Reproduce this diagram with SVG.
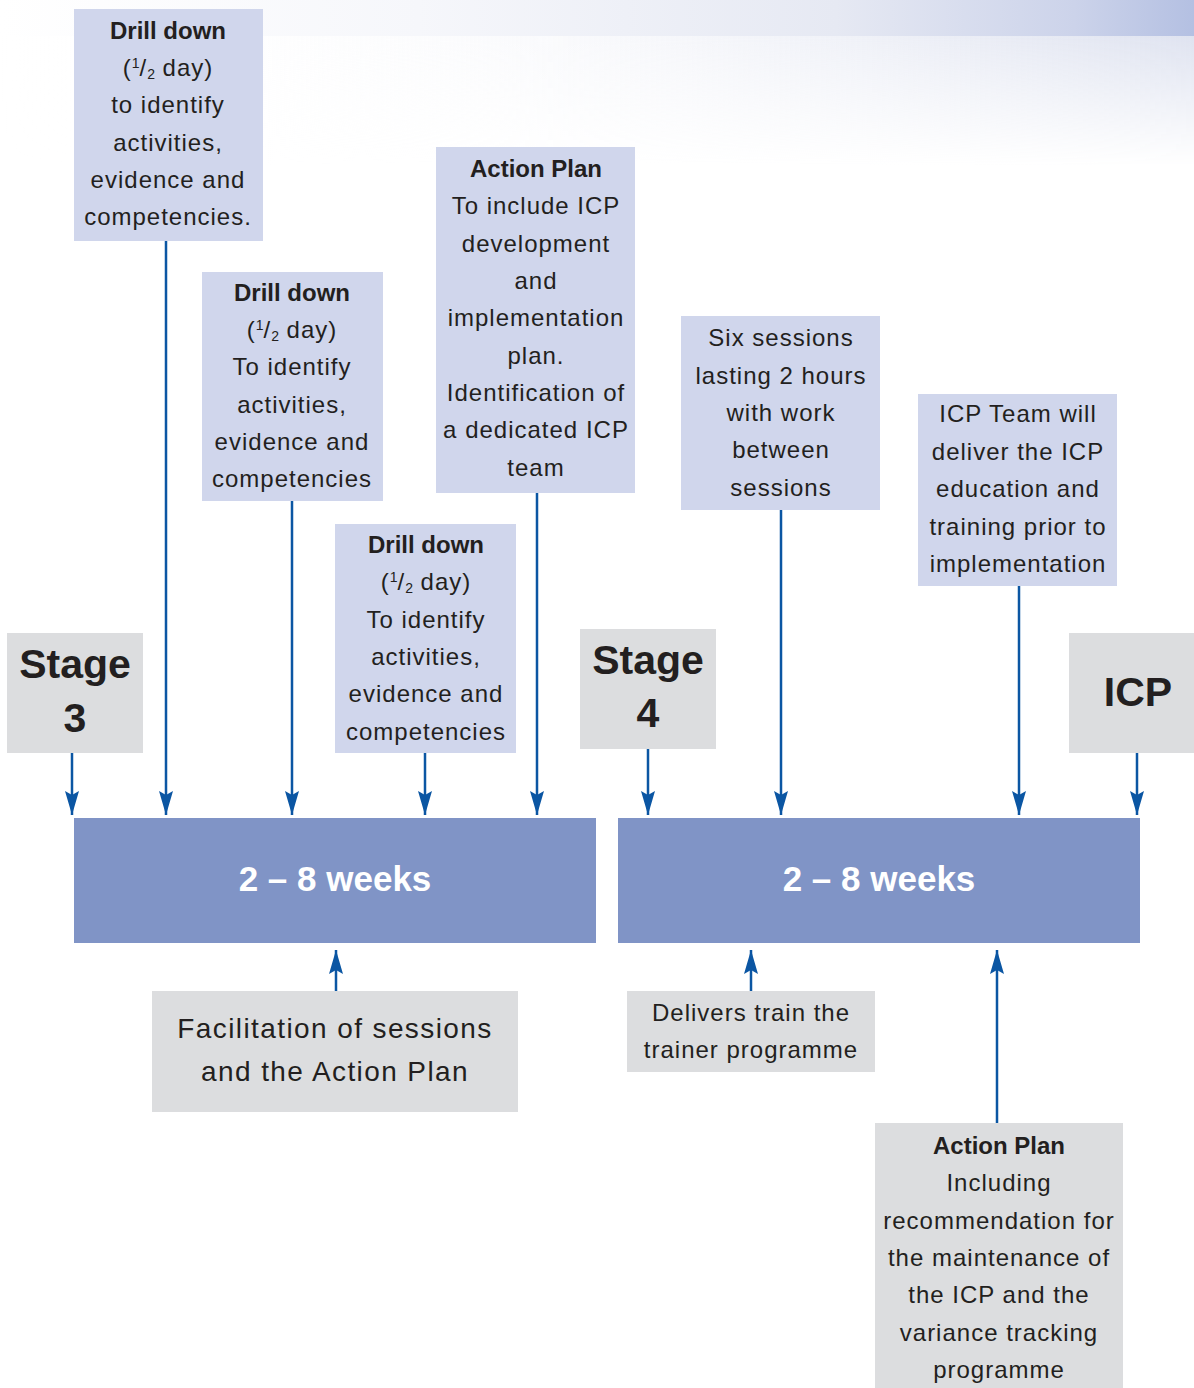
<svg xmlns="http://www.w3.org/2000/svg" width="1194" height="1388" viewBox="0 0 1194 1388">
<defs>
<linearGradient id="bg1" x1="0" y1="0" x2="1" y2="0">
<stop offset="0" stop-color="#ffffff"/>
<stop offset="0.35" stop-color="#f6f7fb"/>
<stop offset="0.7" stop-color="#e6e9f3"/>
<stop offset="0.9" stop-color="#ccd3ea"/>
<stop offset="1" stop-color="#b4c0e2"/>
</linearGradient>
<linearGradient id="bg2" x1="0" y1="0" x2="1" y2="0">
<stop offset="0" stop-color="#ffffff" stop-opacity="0"/>
<stop offset="0.45" stop-color="#f5f6fa" stop-opacity="0.5"/>
<stop offset="1" stop-color="#dfe3f0" stop-opacity="1"/>
</linearGradient>
<linearGradient id="fadeV" x1="0" y1="0" x2="0" y2="1">
<stop offset="0" stop-color="#ffffff"/>
<stop offset="1" stop-color="#000000"/>
</linearGradient>
<mask id="m2" maskUnits="userSpaceOnUse" x="0" y="36" width="1194" height="130">
<rect x="0" y="36" width="1194" height="130" fill="url(#fadeV)"/>
</mask>
<marker id="ah" markerUnits="userSpaceOnUse" markerWidth="24" markerHeight="14" refX="24" refY="7" orient="auto">
<path d="M0,0 L24,7 L0,14 L4,7 z" fill="#0b56a3"/>
</marker>
</defs>
<style>
.lav{fill:#d0d6ec}
.gry{fill:#dcdddf}
.bar{fill:#8094c6}
.t{font-family:"Liberation Sans",Arial,sans-serif;font-size:24px;fill:#231f20;text-anchor:middle;letter-spacing:1px}
.b{font-weight:bold;letter-spacing:0}
.big{font-family:"Liberation Sans",Arial,sans-serif;font-size:41px;font-weight:bold;fill:#231f20;text-anchor:middle}
.wk{font-family:"Liberation Sans",Arial,sans-serif;font-size:35px;font-weight:bold;fill:#ffffff;text-anchor:middle}
.fac{font-family:"Liberation Sans",Arial,sans-serif;font-size:28px;fill:#231f20;text-anchor:middle;letter-spacing:1.4px}
.fr{font-size:14px;letter-spacing:0}
.c{stroke:#0b56a3;stroke-width:2.5;fill:none;marker-end:url(#ah)}
</style>
<rect x="0" y="0" width="1194" height="36" fill="url(#bg1)"/>
<rect x="0" y="36" width="1194" height="130" fill="url(#bg2)" mask="url(#m2)"/>

<g id="connectors">
<line class="c" x1="72" y1="753" x2="72" y2="815"/>
<line class="c" x1="166" y1="241" x2="166" y2="815"/>
<line class="c" x1="292" y1="501" x2="292" y2="815"/>
<line class="c" x1="425" y1="753" x2="425" y2="815"/>
<line class="c" x1="537" y1="493" x2="537" y2="815"/>
<line class="c" x1="648" y1="749" x2="648" y2="815"/>
<line class="c" x1="781" y1="510" x2="781" y2="815"/>
<line class="c" x1="1019" y1="586" x2="1019" y2="815"/>
<line class="c" x1="1137" y1="753" x2="1137" y2="815"/>
<line class="c" x1="336" y1="991" x2="336" y2="950"/>
<line class="c" x1="751" y1="991" x2="751" y2="950"/>
<line class="c" x1="997" y1="1123" x2="997" y2="950"/>
</g>

<g id="drill1">
<rect class="lav" x="74" y="9" width="189" height="232"/>
<text class="t b" x="168" y="39">Drill down</text>
<text class="t" x="168" y="76">(<tspan class="fr" dy="-8">1</tspan><tspan dy="8">/</tspan><tspan class="fr" dy="3">2</tspan><tspan dy="-3"> day)</tspan></text>
<text class="t" x="168" y="113">to identify</text>
<text class="t" x="168" y="151">activities,</text>
<text class="t" x="168" y="188">evidence and</text>
<text class="t" x="168" y="225">competencies.</text>
</g>

<g id="drill2">
<rect class="lav" x="202" y="272" width="181" height="229"/>
<text class="t b" x="292" y="301">Drill down</text>
<text class="t" x="292" y="338">(<tspan class="fr" dy="-8">1</tspan><tspan dy="8">/</tspan><tspan class="fr" dy="3">2</tspan><tspan dy="-3"> day)</tspan></text>
<text class="t" x="292" y="375">To identify</text>
<text class="t" x="292" y="413">activities,</text>
<text class="t" x="292" y="450">evidence and</text>
<text class="t" x="292" y="487">competencies</text>
</g>

<g id="drill3">
<rect class="lav" x="335" y="524" width="181" height="229"/>
<text class="t b" x="426" y="553">Drill down</text>
<text class="t" x="426" y="590">(<tspan class="fr" dy="-8">1</tspan><tspan dy="8">/</tspan><tspan class="fr" dy="3">2</tspan><tspan dy="-3"> day)</tspan></text>
<text class="t" x="426" y="628">To identify</text>
<text class="t" x="426" y="665">activities,</text>
<text class="t" x="426" y="702">evidence and</text>
<text class="t" x="426" y="740">competencies</text>
</g>

<g id="actionplan1">
<rect class="lav" x="436" y="147" width="199" height="346"/>
<text class="t b" x="536" y="177">Action Plan</text>
<text class="t" x="536" y="214">To include ICP</text>
<text class="t" x="536" y="252">development</text>
<text class="t" x="536" y="289">and</text>
<text class="t" x="536" y="326">implementation</text>
<text class="t" x="536" y="364">plan.</text>
<text class="t" x="536" y="401">Identification of</text>
<text class="t" x="536" y="438">a dedicated ICP</text>
<text class="t" x="536" y="476">team</text>
</g>

<g id="sixsessions">
<rect class="lav" x="681" y="316" width="199" height="194"/>
<text class="t" x="781" y="346">Six sessions</text>
<text class="t" x="781" y="384">lasting 2 hours</text>
<text class="t" x="781" y="421">with work</text>
<text class="t" x="781" y="458">between</text>
<text class="t" x="781" y="496">sessions</text>
</g>

<g id="icpteam">
<rect class="lav" x="918" y="394" width="199" height="192"/>
<text class="t" x="1018" y="422">ICP Team will</text>
<text class="t" x="1018" y="460">deliver the ICP</text>
<text class="t" x="1018" y="497">education and</text>
<text class="t" x="1018" y="535">training prior to</text>
<text class="t" x="1018" y="572">implementation</text>
</g>

<g id="stage3">
<rect class="gry" x="7" y="633" width="136" height="120"/>
<text class="big" x="75" y="678">Stage</text>
<text class="big" x="75" y="732">3</text>
</g>

<g id="stage4">
<rect class="gry" x="580" y="629" width="136" height="120"/>
<text class="big" x="648" y="674">Stage</text>
<text class="big" x="648" y="727">4</text>
</g>

<g id="icp">
<rect class="gry" x="1069" y="633" width="125" height="120"/>
<text class="big" x="1138" y="706">ICP</text>
</g>

<g id="weeks1">
<rect class="bar" x="74" y="818" width="522" height="125"/>
<text class="wk" x="335" y="891">2 – 8 weeks</text>
</g>

<g id="weeks2">
<rect class="bar" x="618" y="818" width="522" height="125"/>
<text class="wk" x="879" y="891">2 – 8 weeks</text>
</g>

<g id="facilitation">
<rect class="gry" x="152" y="991" width="366" height="121"/>
<text class="fac" x="335" y="1038">Facilitation of sessions</text>
<text class="fac" x="335" y="1081">and the Action Plan</text>
</g>

<g id="delivers">
<rect class="gry" x="627" y="991" width="248" height="81"/>
<text class="t" x="751" y="1021">Delivers train the</text>
<text class="t" x="751" y="1058">trainer programme</text>
</g>

<g id="actionplan2">
<rect class="gry" x="875" y="1123" width="248" height="265"/>
<text class="t b" x="999" y="1154">Action Plan</text>
<text class="t" x="999" y="1191">Including</text>
<text class="t" x="999" y="1229">recommendation for</text>
<text class="t" x="999" y="1266">the maintenance of</text>
<text class="t" x="999" y="1303">the ICP and the</text>
<text class="t" x="999" y="1341">variance tracking</text>
<text class="t" x="999" y="1378">programme</text>
</g>
</svg>
